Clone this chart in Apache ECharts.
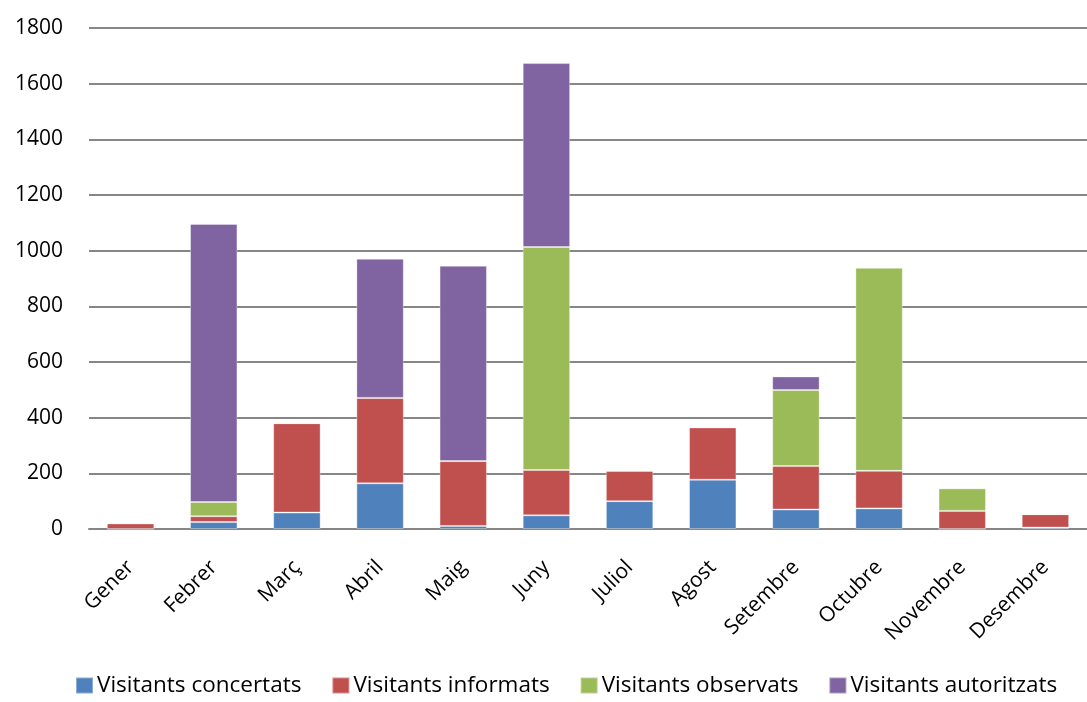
<!DOCTYPE html>
<html>
<head>
<meta charset="utf-8">
<script src="https://cdn.jsdelivr.net/npm/echarts@6/dist/echarts.min.js"></script>
<style>
html,body{margin:0;padding:0;background:#fff;}
#c{width:1087px;height:702px;}
</style>
</head>
<body>
<div id="c"></div>
<script>
const categories = ['Gener','Febrer','Març','Abril','Maig','Juny','Juliol','Agost','Setembre','Octubre','Novembre','Desembre'];
const seriesNames = ['Visitants concertats','Visitants informats','Visitants observats','Visitants autoritzats'];
const concertats  = [0, 25, 59, 164, 11, 49, 100, 177, 70, 74, 0, 5];
const informats   = [20, 21, 321, 307, 233, 163, 109, 188, 156, 135, 65, 48];
const observats   = [0, 51, 0, 0, 0, 801, 0, 0, 273, 730, 81, 0];
const autoritzats = [0, 999, 0, 500, 702, 661, 0, 0, 49, 0, 0, 0];
const yTicks = [0, 200, 400, 600, 800, 1000, 1200, 1400, 1600, 1800];

const colors = ['#4F81BD','#C0504D','#9BBB59','#8064A2'];
const values = [concertats, informats, observats, autoritzats];
const font = '"Open Sans", sans-serif';

const chart = echarts.init(document.getElementById('c'));
chart.setOption({
  animation: false,
  color: colors,
  textStyle: {fontFamily: font},
  grid: {left: 89, right: -12, top: 28, bottom: 173},
  legend: {
    left: 70, bottom: 0,
    itemWidth: 17, itemHeight: 16, itemGap: 30,
    icon: 'rect',
    textStyle: {fontFamily: font, fontSize: 22.5, color: '#000', padding: [0,0,0,-1]},
    data: seriesNames
  },
  xAxis: {
    type: 'category',
    data: categories,
    axisLine: {show: true, lineStyle: {color: '#868686', width: 2}},
    axisTick: {show: false},
    axisLabel: {rotate: 45, fontSize: 21, color: '#000', margin: 35, fontFamily: font, interval: 0}
  },
  yAxis: {
    type: 'value',
    min: yTicks[0], max: yTicks[yTicks.length-1], interval: 200,
    axisLine: {show: false},
    axisTick: {show: false},
    axisLabel: {fontSize: 21, color: '#000', margin: 26, fontFamily: font, formatter: v => String(v)},
    splitLine: {lineStyle: {color: '#868686', width: 2}}
  },
  series: values.map((v, i) => ({
    name: seriesNames[i],
    type: 'bar',
    stack: 'total',
    barWidth: '57%',
    data: v,
    itemStyle: {color: colors[i], borderColor: 'rgba(255,255,255,0.35)', borderWidth: 1}
  }))
});
</script>
</body>
</html>
